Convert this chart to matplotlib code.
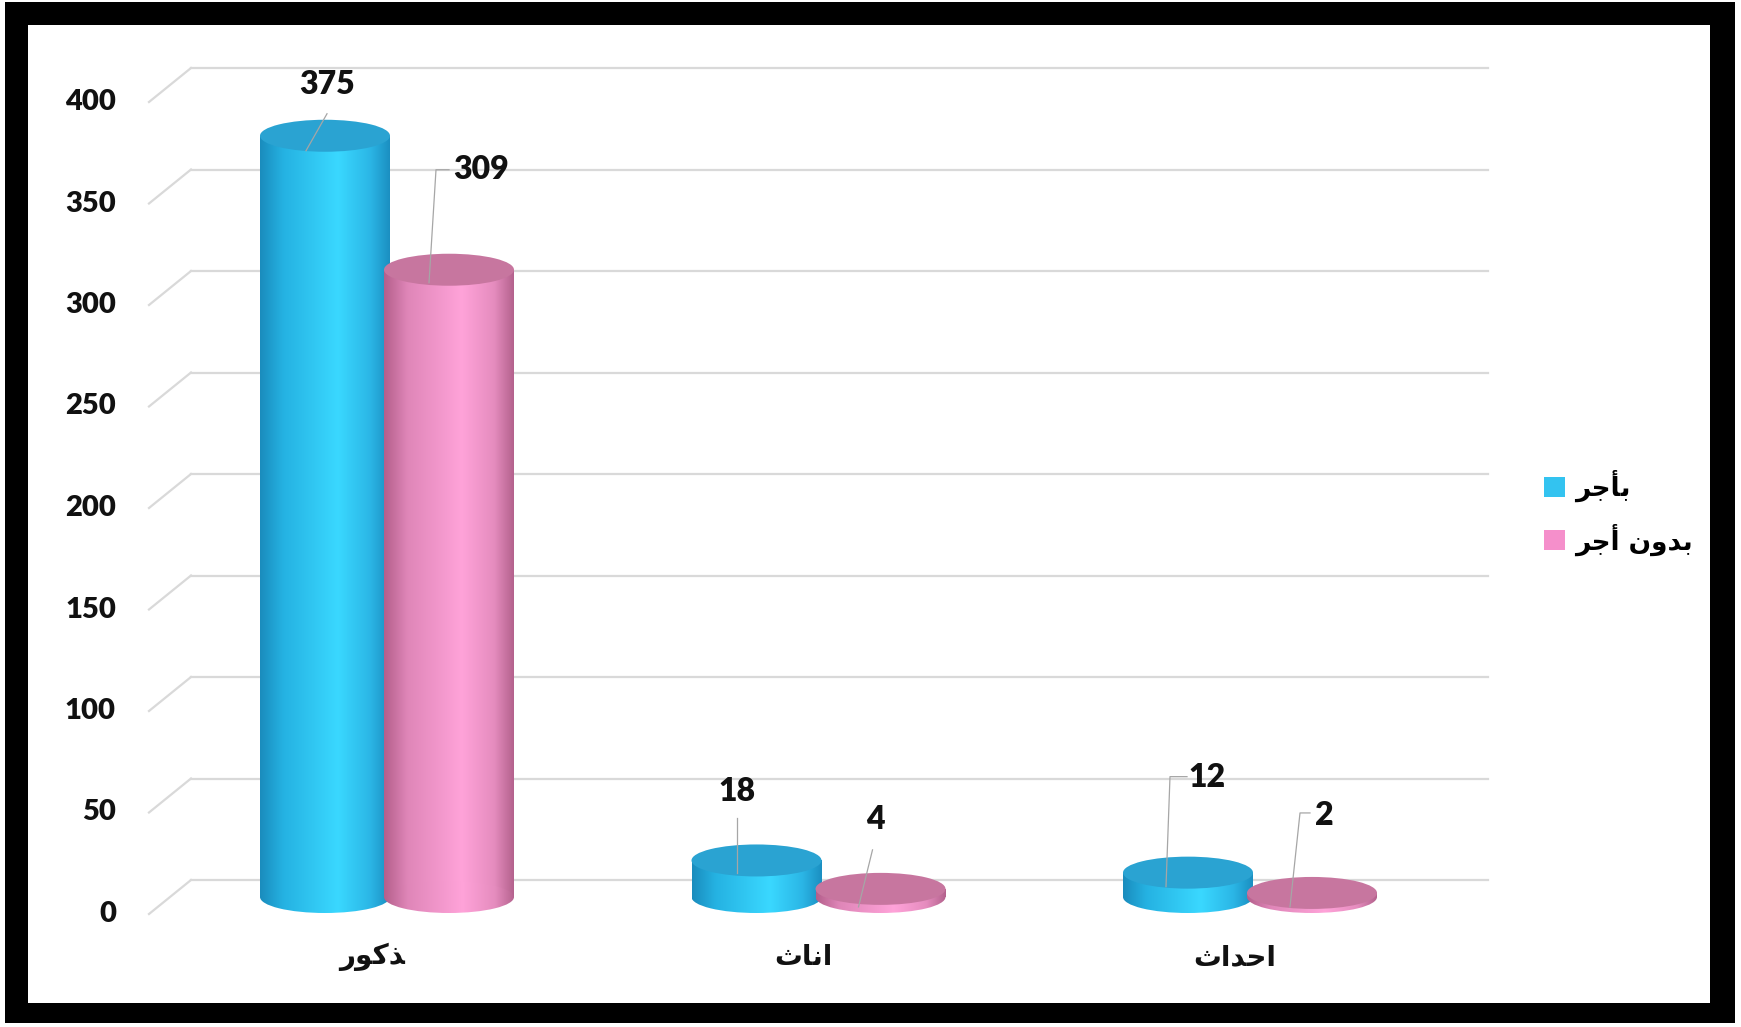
import numpy as np
import matplotlib.pyplot as plt
from matplotlib.patches import Ellipse, Rectangle, Patch
from matplotlib.colors import LinearSegmentedColormap

# Arabic text is written with presentation forms in visual order,
# because matplotlib does no shaping / bidi by itself.
categories = ["\uFEAD\uFEEE\uFEDB\uFEAC",        # ذكور
              "\uFE99\uFE8E\uFEE7\uFE8D",        # اناث
              "\uFE99\uFE8D\uFEAA\uFEA3\uFE8D"]  # احداث
series_names = ["\uFEAE\uFE9F\uFE84\uFE91",                            # بأجر
                "\uFEAE\uFE9F\uFE83 \uFEE5\uFEED\uFEAA\uFE91"]         # بدون أجر
paid = [375, 18, 12]
unpaid = [309, 4, 2]
yticks = [0, 50, 100, 150, 200, 250, 300, 350, 400]

# layout (pixels of the 1741x1027 picture)
W, H = 1741, 1027
GROUP0, GROUP_STEP = 387, 431.5     # px of first group centre, px between groups
Y0, Y_STEP = 880, 2.03              # px of value 0 on back wall, px per unit
X_PX = 1 / GROUP_STEP
Y_PX = 1 / Y_STEP
BAR_W = 130 * X_PX
BAR_OFF = 62 * X_PX
MID = 17 * Y_PX                     # half depth of the floor
DEPTH = 34 * Y_PX
DEPTH_X = 42 * X_PX
ELL_H = 32 * Y_PX

cmap_paid = LinearSegmentedColormap.from_list(
    "paid", [(0, "#1a8cbd"), (0.18, "#25b2e2"), (0.6, "#3ad8ff"),
             (0.85, "#2bb6e6"), (1, "#1b8fc1")])
cmap_unpaid = LinearSegmentedColormap.from_list(
    "unpaid", [(0, "#b45f8b"), (0.18, "#df86b8"), (0.6, "#ffa3d9"),
               (0.85, "#e58cbe"), (1, "#b4628d")])
top_paid, top_unpaid = "#2aa3d2", "#c7769f"

# label offsets from top centre of each bar, px (x right, y down)
lab_off = {(0, 0): (2, -51), (0, 1): (32, -100), (1, 0): (-20, -69),
           (1, 1): (-5, -69), (2, 0): (19, -95), (2, 1): (12, -77)}
lead_off = {(0, 0): [(-19, 15), (2, -22)],
            (0, 1): [(-20, 13), (-13, -100), (0, -100)],
            (1, 0): [(-20, 13), (-20, -42)],
            (1, 1): [(-22, 18), (-8, -39)],
            (2, 0): [(-22, 14), (-18, -96), (-1, -96)],
            (2, 1): [(-22, 14), (-12, -80), (-2, -80)]}

fig = plt.figure(figsize=(W / 100, H / 100), dpi=100)
fig.patch.set_facecolor("white")
fig.add_artist(Rectangle((5 / W, 1 - 1023 / H), 1730 / W, 1021 / H,
                         transform=fig.transFigure, facecolor="black",
                         edgecolor="none", zorder=-10))
fig.add_artist(Rectangle((28 / W, 1 - 1003 / H), 1682 / W, 978 / H,
                         transform=fig.transFigure, facecolor="white",
                         edgecolor="none", zorder=-9))

ax = fig.add_axes([0, 0, 1, 1])
ax.patch.set_visible(False)
ax.set_axis_off()

# back wall grid with perspective stubs
x_back_l = (191 - GROUP0) * X_PX
x_back_r = (1488 - GROUP0) * X_PX
for v in yticks:
    ax.plot([x_back_l, x_back_r], [v, v], color="#d9d9d9", lw=1.6, zorder=1)
    ax.plot([x_back_l, x_back_l - DEPTH_X], [v, v - DEPTH], color="#d9d9d9",
            lw=1.6, zorder=1)
    ax.text((116 - GROUP0) * X_PX, v - DEPTH, str(v), ha="right", va="center",
            fontsize=21, fontweight="heavy", family="Lato", color="#111111")

grad = np.linspace(0, 1, 256).reshape(1, -1)


def cylinder(xc, val, cmap, top_col, z):
    bars = ax.bar(xc, val, width=BAR_W, bottom=-MID, color="none",
                  edgecolor="none", zorder=z)
    body = bars[0]
    base = Ellipse((xc, -MID), BAR_W, ELL_H, facecolor="none",
                   edgecolor="none", zorder=z)
    ax.add_patch(base)
    ext = [xc - BAR_W / 2, xc + BAR_W / 2, -MID - ELL_H, val - MID + 1]
    for clip in (body, base):
        im = ax.imshow(grad, cmap=cmap, extent=ext, aspect="auto",
                       interpolation="bicubic", zorder=z)
        im.set_clip_path(clip)
    ax.add_patch(Ellipse((xc, val - MID), BAR_W, ELL_H, facecolor=top_col,
                         edgecolor="none", zorder=z + 0.1))


for i in range(len(categories)):
    for s, (vals, cm, tc) in enumerate([(paid, cmap_paid, top_paid),
                                         (unpaid, cmap_unpaid, top_unpaid)]):
        xc = i + (s * 2 - 1) * BAR_OFF
        val = vals[i]
        cylinder(xc, val, cm, tc, 2 + s)
        yt = val - MID
        pts = lead_off[(i, s)]
        ax.plot([xc + dx * X_PX for dx, dy in pts],
                [yt - dy * Y_PX for dx, dy in pts],
                color="#a6a6a6", lw=0.9, zorder=5)
        dx, dy = lab_off[(i, s)]
        ax.text(xc + dx * X_PX, yt - dy * Y_PX, str(val), ha="center",
                va="center", fontsize=23, fontweight="heavy", family="Lato",
                color="#111111", zorder=6)
    ax.text(i - 15 * X_PX, (Y0 - 957) * Y_PX, categories[i], ha="center",
            va="center", fontsize=20, fontweight="bold", family="DejaVu Sans",
            color="#111111")

ax.set_xlim(-GROUP0 * X_PX, (W - GROUP0) * X_PX)
ax.set_ylim((Y0 - H) * Y_PX, Y0 * Y_PX)

handles = [Patch(facecolor="#33c3f0", label=series_names[0]),
           Patch(facecolor="#f58fcb", label=series_names[1])]
fig.legend(handles=handles, loc="center left",
           bbox_to_anchor=(1520 / W, 1 - 513 / H), frameon=False,
           prop={"family": "DejaVu Sans", "weight": "bold", "size": 19},
           handlelength=0.8, handleheight=0.8, handletextpad=0.4,
           labelspacing=0.8)

fig.savefig("out.png", dpi=100)
